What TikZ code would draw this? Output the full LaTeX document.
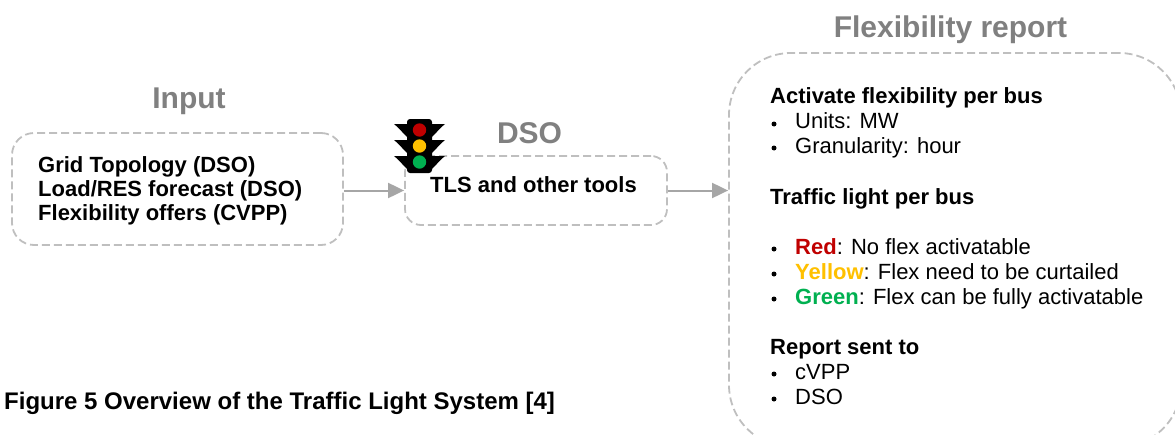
\documentclass[tikz,border=0pt]{standalone}
\usepackage{fontspec}
\setmainfont{Liberation Sans}
\usepackage[dvipsnames]{xcolor}
\usetikzlibrary{arrows.meta}
\usetikzlibrary{positioning}
\definecolor{lightred}{HTML}{C00000}
\definecolor{lightyellow}{HTML}{FFC000}
\definecolor{lightgreen}{HTML}{00B050}
\definecolor{dashgray}{HTML}{BFBFBF}
\definecolor{arrowgray}{HTML}{A6A6A6}
\definecolor{titlegray}{HTML}{808080}
\tikzset{
	dashbox/.style={draw=dashgray,line width=1.8pt,dash pattern=on 8pt off 4pt},
	flowarrow/.style={draw=arrowgray,line width=2pt,-{Triangle[length=16pt, width=15pt]}},
	titletext/.style={anchor=base,inner sep=0pt,text=titlegray,font=\fontsize{30}{30}\selectfont\bfseries},
	boldtext/.style={anchor=base west,inner sep=0pt,font=\fontsize{22}{22}\selectfont\bfseries},
	plaintext/.style={anchor=base west,inner sep=0pt,font=\fontsize{22}{22}\selectfont},
	captiontext/.style={anchor=base west,inner sep=0pt,font=\fontsize{24}{24}\selectfont\bfseries},
	dotmark/.style={circle,fill=black,inner sep=0pt,minimum size=5pt}
}
\begin{document}
\begin{tikzpicture}[line cap=butt,line join=round, x=1pt,y=-1pt]
	\useasboundingbox (0,0) rectangle (1175,434);
	\clip (0,0) rectangle (1175,434);
	% boxes
	\node[dashbox,rounded corners=22pt,minimum width=331pt,minimum height=112pt] (inputbox) at (177.5,189) {};
	\node[dashbox,rounded corners=16pt,minimum width=262pt,minimum height=69pt] (dsobox) at (536,190.5) {};
	\node[dashbox,rounded corners=62pt,minimum width=452pt,minimum height=394pt] (reportbox) at (955,250) {};
	\draw[flowarrow] (inputbox.east |- dsobox.west) -- (dsobox.west);
	\draw[flowarrow] (dsobox.east) -- (dsobox.east -| reportbox.west);
	% titles
	\node[titletext] (inputtitle) at (189,108) {Input};
	\node[titletext] (dsotitle) at (529.5,143) {DSO};
	\node[titletext] (reporttitle) at (950.5,37) {Flexibility report};
	% input lines
	\node[boldtext] (gridline) at (38,172) {Grid Topology (DSO)};
	\node[boldtext] (loadline) at (38,196) {Load/RES forecast (DSO)};
	\node[boldtext] (offerline) at (38,220) {Flexibility offers (CVPP)};
	\node[boldtext] (tlsline) at (430,192) {TLS and other tools};
	% traffic light
	\foreach \y in {124,140,156}
	{
		\fill (407,\y) -- (394,\y) .. controls (398,\y+3) and (402,\y+8) .. (407,\y+13) -- cycle;
		\fill (432,\y) -- (445,\y) .. controls (441,\y+3) and (437,\y+8) .. (432,\y+13) -- cycle;
	}
	\fill[rounded corners=3pt] (407,119) rectangle (432,173);
	\fill[lightred] (419.5,130) circle (6.7);
	\fill[lightyellow] (419.5,146) circle (6.7);
	\fill[lightgreen] (419.5,162) circle (6.7);
	% report lines
	\node[boldtext] (activateline) at (770,103) {Activate flexibility per bus};
	\node[plaintext] (unitsline) at (795,128) {Units: MW};
	\node[plaintext] (granline) at (795,153) {Granularity: hour};
	\node[boldtext] (lightline) at (770,204) {Traffic light per bus};
	\node[plaintext] (redline) at (795,254) {\textbf{\textcolor{lightred}{Red}}: No flex activatable};
	\node[plaintext] (yellowline) at (795,279) {\textbf{\textcolor{lightyellow}{Yellow}}: Flex need to be curtailed};
	\node[plaintext] (greenline) at (795,304) {\textbf{\textcolor{lightgreen}{Green}}: Flex can be fully activatable};
	\node[boldtext] (sentline) at (770,354) {Report sent to};
	\node[plaintext] (cvppline) at (795,379) {cVPP};
	\node[plaintext] (dsoline) at (795,404) {DSO};
	\foreach \y in {124,148,249,274,299,374,399}
	\node[dotmark] at (774,\y) {};
	% caption
	\node[captiontext] (captionline) at (4,409) {Figure 5 Overview of the Traffic Light System [4]};
\end{tikzpicture}
\end{document}
